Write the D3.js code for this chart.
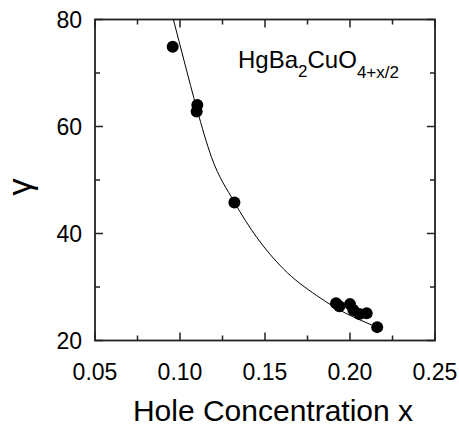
<!DOCTYPE html>
<html>
<head>
<meta charset="utf-8">
<script src="https://cdn.jsdelivr.net/npm/d3@7"></script>
<style>
  body { margin: 0; background: #fff; }
  text { font-family: "Liberation Sans", Arial, sans-serif; fill: #000; }
</style>
</head>
<body>
<div id="chart"></div>
<script>
// measured points (hole concentration x, anisotropy gamma)
var holeX = [0.0957, 0.1102, 0.1098, 0.132, 0.1918, 0.1937, 0.2, 0.202, 0.2055, 0.2098, 0.216];
var gammaY = [74.9, 64.0, 62.8, 45.8, 26.95, 26.4, 26.8, 25.7, 24.95, 25.1, 22.5];

// fitted curve
var fitX = [0.0961, 0.1024, 0.11, 0.1186, 0.1319, 0.1451, 0.1608, 0.1804, 0.1922, 0.2128];
var fitY = [80, 72.3, 63.2, 54.2, 45.9, 39.3, 33.4, 28.4, 26.0, 22.9];

var xTicks = [0.05, 0.10, 0.15, 0.20, 0.25];
var xMinor = [0.075, 0.125, 0.175, 0.225];
var yTicks = [20, 40, 60, 80];
var yMinor = [30, 50, 70];

var W = 459, H = 427;
var mLeft = 95, mRight = 435, mTop = 19.5, mBottom = 340.5;

var x = d3.scaleLinear().domain([0.05, 0.25]).range([mLeft, mRight]);
var y = d3.scaleLinear().domain([20, 80]).range([mBottom, mTop]);

var svg = d3.select('#chart').append('svg')
    .attr('width', W)
    .attr('height', H);

svg.append('defs').append('clipPath').attr('id', 'plot')
    .append('rect')
    .attr('x', mLeft).attr('y', mTop)
    .attr('width', mRight - mLeft).attr('height', mBottom - mTop);

// ticks, inward on all four sides
var g = svg.append('g').attr('stroke', '#222').attr('stroke-width', 1.5);
xTicks.concat(xMinor).forEach(function(t) {
    var len = xTicks.indexOf(t) >= 0 ? 8 : 5;
    g.append('line').attr('x1', x(t)).attr('x2', x(t)).attr('y1', mBottom).attr('y2', mBottom - len);
    g.append('line').attr('x1', x(t)).attr('x2', x(t)).attr('y1', mTop).attr('y2', mTop + len);
});
yTicks.concat(yMinor).forEach(function(t) {
    var len = yTicks.indexOf(t) >= 0 ? 8 : 5;
    g.append('line').attr('y1', y(t)).attr('y2', y(t)).attr('x1', mLeft).attr('x2', mLeft + len);
    g.append('line').attr('y1', y(t)).attr('y2', y(t)).attr('x1', mRight).attr('x2', mRight - len);
});

// frame
svg.append('rect')
    .attr('x', mLeft).attr('y', mTop)
    .attr('width', mRight - mLeft).attr('height', mBottom - mTop)
    .attr('fill', 'none')
    .attr('stroke', '#222')
    .attr('stroke-width', 1.8);

// tick labels
svg.selectAll('.xl').data(xTicks).enter().append('text')
    .attr('x', function(d) { return x(d); })
    .attr('y', 380)
    .attr('text-anchor', 'middle')
    .style('font-size', '23px')
    .text(function(d) { return d3.format('.2f')(d); });

svg.selectAll('.yl').data(yTicks).enter().append('text')
    .attr('x', 82)
    .attr('y', function(d) { return y(d) + 8; })
    .attr('text-anchor', 'end')
    .style('font-size', '23px')
    .text(function(d) { return d; });

// fit line
var line = d3.line()
    .x(function(d, i) { return x(fitX[i]); })
    .y(function(d, i) { return y(fitY[i]); })
    .curve(d3.curveMonotoneX);

svg.append('path')
    .datum(fitX)
    .attr('d', line)
    .attr('clip-path', 'url(#plot)')
    .attr('fill', 'none')
    .attr('stroke', '#000')
    .attr('stroke-width', 1);

// points
svg.selectAll('.pt').data(holeX).enter().append('circle')
    .attr('cx', function(d) { return x(d); })
    .attr('cy', function(d, i) { return y(gammaY[i]); })
    .attr('r', 6)
    .attr('fill', '#000');

// compound label
var lbl = svg.append('text')
    .attr('x', 238)
    .attr('y', 68)
    .style('font-size', '24px');
lbl.append('tspan').text('HgBa');
lbl.append('tspan').attr('dy', 9).style('font-size', '17px').text('2');
lbl.append('tspan').attr('dy', -9).text('CuO');
lbl.append('tspan').attr('dy', 10).style('font-size', '17px').text('4+x/2');

// axis titles
svg.append('text')
    .attr('x', 273)
    .attr('y', 421)
    .attr('text-anchor', 'middle')
    .style('font-size', '30px')
    .text('Hole Concentration x');

svg.append('text')
    .attr('transform', 'translate(31,187) rotate(-90)')
    .attr('text-anchor', 'middle')
    .style('font-size', '34px')
    .text('γ');
</script>
</body>
</html>
